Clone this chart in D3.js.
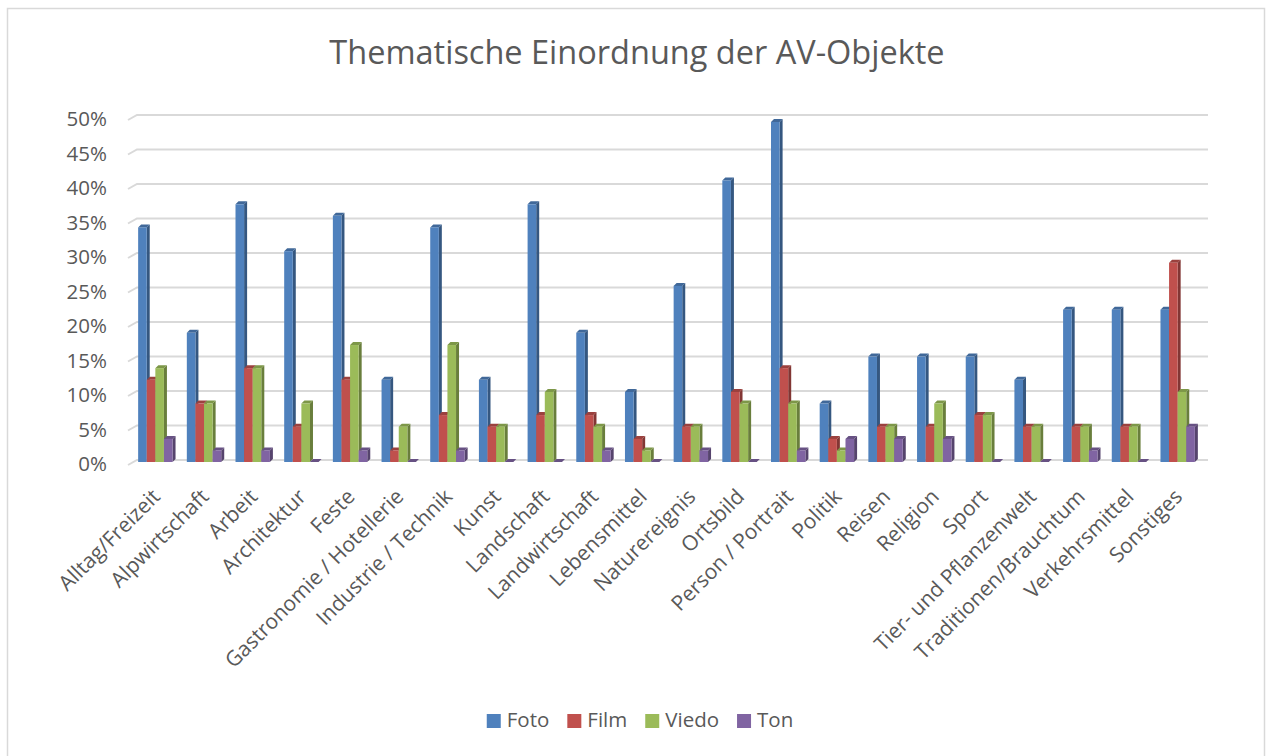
<!DOCTYPE html>
<html>
<head>
<meta charset="utf-8">
<script src="https://cdn.jsdelivr.net/npm/d3@7"></script>
<style>
  body { margin: 0; background: #fff; }
  text { font-family: "Open Sans", sans-serif; fill: #595959; }
</style>
</head>
<body>
<div id="chart"></div>
<script>
// categories and series (share of objects per theme)
const categories = [
  "Alltag/Freizeit", "Alpwirtschaft", "Arbeit", "Architektur", "Feste",
  "Gastronomie / Hotellerie", "Industrie / Technik", "Kunst", "Landschaft",
  "Landwirtschaft", "Lebensmittel", "Naturereignis", "Ortsbild",
  "Person / Portrait", "Politik", "Reisen", "Religion", "Sport",
  "Tier- und Pflanzenwelt", "Traditionen/Brauchtum", "Verkehrsmittel", "Sonstiges"
];
const seriesNames = ["Foto", "Film", "Viedo", "Ton"];
const seriesColors = ["#4f81bd", "#c0504d", "#9bbb59", "#8064a2"];

const foto  = [34.5, 19.0, 37.9, 31.0, 36.2, 12.1, 34.5, 12.1, 37.9, 19.0, 10.3, 25.9, 41.4, 50.0, 8.6, 15.5, 15.5, 15.5, 12.1, 22.4, 22.4, 22.4];
const film  = [12.1, 8.6, 13.8, 5.2, 12.1, 1.7, 6.9, 5.2, 6.9, 6.9, 3.4, 5.2, 10.3, 13.8, 3.4, 5.2, 5.2, 6.9, 5.2, 5.2, 5.2, 29.3];
const viedo = [13.8, 8.6, 13.8, 8.6, 17.2, 5.2, 17.2, 5.2, 10.3, 5.2, 1.7, 5.2, 8.6, 8.6, 1.7, 5.2, 8.6, 6.9, 5.2, 5.2, 5.2, 10.3];
const ton   = [3.4, 1.7, 1.7, 0, 1.7, 0, 1.7, 0, 0, 1.7, 0, 1.7, 0, 1.7, 3.4, 3.4, 3.4, 0, 0, 1.7, 0, 5.2];
const seriesValues = [foto, film, viedo, ton];

const yTicks = [0, 5, 10, 15, 20, 25, 30, 35, 40, 45, 50];

const W = 1269, H = 756;
const depthX = 3, depthY = 3;

const svg = d3.select("#chart").append("svg")
  .attr("width", W).attr("height", H);

// chart area border
svg.append("rect")
  .attr("x", 7.5).attr("y", 8.5)
  .attr("width", 1257).attr("height", 760)
  .attr("fill", "#fff").attr("stroke", "#d9d9d9").attr("stroke-width", 1.5);

// title
svg.append("text")
  .attr("x", 637).attr("y", 64)
  .attr("text-anchor", "middle")
  .style("font-size", "32.5px")
  .text("Thematische Einordnung der AV-Objekte");

// scales
const x = d3.scaleBand().domain(categories).range([131, 1202]).padding(0);
const xInner = d3.scaleBand().domain(seriesNames).range([0, 34.4]);
const yGrid = d3.scaleLinear().domain([0, 50]).range([460, 115]);   // back wall
const yBar = d3.scaleLinear().domain([0, 50]).range([462, 122]);    // front faces

const groupOffset = (x.bandwidth() - xInner.range()[1]) / 2;

// gridlines on the back wall with a small slant to the side wall
const grid = svg.append("g");
yTicks.forEach(t => {
  const y = yGrid(t);
  grid.append("path")
    .attr("d", `M128,${y + 5}L137,${y}L1208,${y}`)
    .attr("fill", "none")
    .attr("stroke", "#d9d9d9")
    .attr("stroke-width", 2);
});

// y axis labels
svg.append("g").selectAll("text")
  .data(yTicks)
  .join("text")
  .attr("x", 107)
  .attr("y", d => yGrid(d) + 6)
  .attr("text-anchor", "end")
  .attr("dominant-baseline", "middle")
  .style("font-size", "20.5px")
  .text(d => d + "%");

// bars (front, side, top)
const bars = svg.append("g");
categories.forEach((cat, i) => {
  seriesNames.forEach((s, j) => {
    const v = seriesValues[j][i];
    const col = d3.color(seriesColors[j]);
    const x0 = x(cat) + groupOffset + xInner(s);
    const w = xInner.bandwidth();
    const yTop = yBar(v), yBase = yBar(0);
    const g = bars.append("g");
    g.append("path")
      .attr("d", `M${x0 + w},${yTop}L${x0 + w + depthX},${yTop - depthY}L${x0 + w + depthX},${yBase - depthY}L${x0 + w},${yBase}Z`)
      .attr("fill", col.darker(1.1));
    g.append("path")
      .attr("d", `M${x0},${yTop}L${x0 + depthX},${yTop - depthY}L${x0 + w + depthX},${yTop - depthY}L${x0 + w},${yTop}Z`)
      .attr("fill", col.darker(0.6));
    if (v > 0) {
      g.append("rect")
        .attr("x", x0).attr("y", yTop)
        .attr("width", w).attr("height", yBase - yTop)
        .attr("fill", col);
    }
  });
});

// category labels, rotated
svg.append("g").selectAll("text")
  .data(categories)
  .join("text")
  .attr("transform", d => `translate(${x(d) + x.bandwidth() / 2 + 6},498) rotate(-45)`)
  .attr("text-anchor", "end")
  .style("font-size", "21px")
  .text(d => d);

// legend
const legend = svg.append("g");
let lx = 0;
seriesNames.forEach((s, j) => {
  const it = legend.append("g").attr("transform", `translate(${lx},0)`);
  it.append("rect").attr("x", 0).attr("y", -7).attr("width", 14).attr("height", 14).attr("fill", seriesColors[j]);
  const t = it.append("text").attr("x", 20).attr("y", 1)
    .attr("dominant-baseline", "middle")
    .style("font-size", "20.5px").text(s);
  lx += 20 + t.node().getComputedTextLength() + 18;
});
const legendWidth = lx - 18;
legend.attr("transform", `translate(${640 - legendWidth / 2},721)`);
</script>
</body>
</html>
